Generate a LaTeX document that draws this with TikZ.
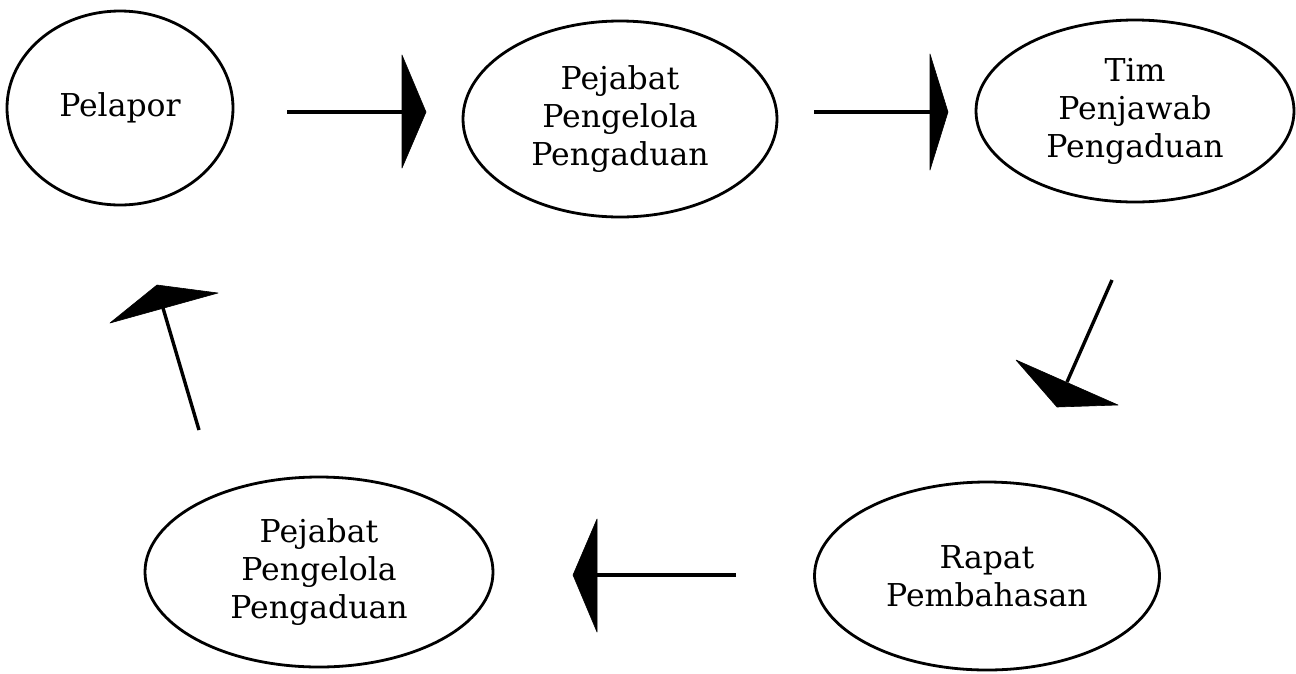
\documentclass[tikz,border=0pt]{standalone}
\usepackage{fontspec}
\setmainfont{DejaVu Serif}
\usetikzlibrary{shapes.geometric}
\begin{document}
\begin{tikzpicture}[x=1pt,y=-1pt,
  oval/.style={draw, ellipse, line width=2.8pt, inner sep=0pt, align=center,
    font=\fontsize{31.5}{38}\selectfont},
  conn/.style={line width=3.4pt},
  head/.style={fill=black, draw=black, line width=0.6pt, line join=round}]
\useasboundingbox (0,0) rectangle (1296,673);
\node[oval, minimum width=226pt, minimum height=194pt] (pel) at (120,108) {Pelapor};
\node[oval, minimum width=314pt, minimum height=196pt] (ppp1) at (620,119) {Pejabat\\Pengelola\\Pengaduan};
\node[oval, minimum width=318pt, minimum height=182pt] (tim) at (1135,111) {Tim\\Penjawab\\Pengaduan};
\node[oval, minimum width=348pt, minimum height=190pt] (ppp2) at (319,572) {Pejabat\\Pengelola\\Pengaduan};
\node[oval, minimum width=345pt, minimum height=188pt] (rap) at (987,576) {Rapat\\Pembahasan};
% arrow 1
\coordinate (a1s) at (287,112); \coordinate (a1e) at (402,112);
\draw[conn] (a1s) -- (a1e);
\filldraw[head] (402,55) -- (426,112) -- (402,168) -- cycle;
% arrow 2
\coordinate (a2s) at (814,112); \coordinate (a2e) at (930,112);
\draw[conn] (a2s) -- (a2e);
\filldraw[head] (930,54) -- (948,112) -- (930,170) -- cycle;
% arrow 3
\coordinate (a3s) at (1112,280); \coordinate (a3e) at (1067,382);
\draw[conn] (a3s) -- (a3e);
\filldraw[head] (1016,360) -- (1057,407) -- (1118,405) -- cycle;
% arrow 4
\coordinate (a5s) at (736,575); \coordinate (a5e) at (597,575);
\draw[conn] (a5s) -- (a5e);
\filldraw[head] (597,519) -- (573,575) -- (597,632) -- cycle;
% arrow 5
\coordinate (a4s) at (199,430); \coordinate (a4e) at (163,308);
\draw[conn] (a4s) -- (a4e);
\filldraw[head] (110,323) -- (157,285) -- (218,293) -- cycle;
\end{tikzpicture}
\end{document}
